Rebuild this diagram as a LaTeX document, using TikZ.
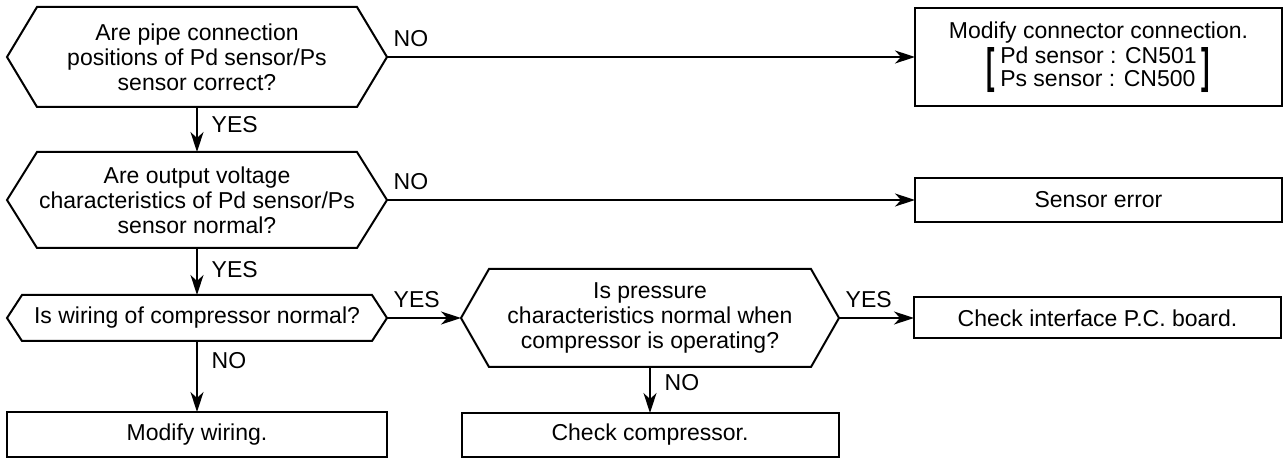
\documentclass[tikz,border=0pt]{standalone}
\usepackage{fontspec}
\setmainfont{Liberation Sans}
\usepackage{tikz}
\usetikzlibrary{arrows.meta, positioning}
\newcommand{\hexframe}[2]{%
  \draw[frm] (#1.west) -- ([xshift=#2]#1.north west) -- ([xshift=-#2]#1.north east)
    -- (#1.east) -- ([xshift=-#2]#1.south east) -- ([xshift=#2]#1.south west) -- cycle;}
\newcommand{\bigbrk}[1]{$\vcenter{\hbox{\scalebox{1.1}[2.1]{\bfseries #1}}}$}

\begin{document}
\begin{tikzpicture}[
  font=\fontsize{11.5}{12.4}\selectfont,
  frm/.style={line width=1pt, line join=miter},
  qhex/.style={minimum width=190pt, minimum height=50pt, align=center, inner sep=0pt, outer sep=0pt},
  res/.style={draw, frm, minimum width=183.5pt, minimum height=22pt, align=center, inner sep=0pt, outer sep=0pt},
  arr/.style={-{Stealth[length=10pt, width=6.5pt, inset=3pt]}, line width=0.7pt},
  hlbl/.style={anchor=south west, inner sep=0pt, xshift=3pt, yshift=5pt},
  vlbl/.style={right=7pt, inner sep=0pt}
]
\useasboundingbox (0,0) rectangle (642pt,-229.5pt);

% questions on the left
\node[qhex] (q1) at (98.5pt,-28.5pt) {Are pipe connection\\ positions of Pd sensor/Ps\\ sensor correct?};
\hexframe{q1}{15pt}
\node[qhex, minimum height=48pt, below=22.5pt of q1] (q2) {Are output voltage\\ characteristics of Pd sensor/Ps\\ sensor normal?};
\hexframe{q2}{15pt}
\node[qhex, minimum height=23pt, below=23.5pt of q2] (q3) {Is wiring of compressor normal?};
\hexframe{q3}{7.5pt}
\node[qhex, minimum width=189pt, minimum height=49pt, right=37pt of q3] (q4) {Is pressure\\ characteristics normal when\\ compressor is operating?};
\hexframe{q4}{14pt}

% results
\node[res, minimum height=49pt, right=264pt of q1] (fixconn) {Modify connector connection.\\[1pt]
  \def\arraystretch{0.84}\bigbrk{[}\hspace{2.5pt}\begin{tabular}{@{}l@{}}Pd sensor : CN501\\ Ps sensor : CN500\end{tabular}\hspace{2.5pt}\bigbrk{]}};
\node[res, right=264pt of q2] (senserr) {Sensor error};
\node[res, minimum height=20.5pt, right=37.5pt of q4] (chkpcb) {Check interface P.C. board.};
\node[res, minimum width=190pt, minimum height=22.5pt, below=35.5pt of q3] (fixwire) {Modify wiring.};
\node[res, minimum width=188.5pt, below=23pt of q4] (chkcomp) {Check compressor.};

\draw[arr] (q1.east) -- (fixconn.west) node[pos=0, hlbl] {NO};
\draw[arr] (q1.south) -- (q2.north) node[pos=0.4, vlbl] {YES};
\draw[arr] (q2.east) -- (senserr.west) node[pos=0, hlbl] {NO};
\draw[arr] (q2.south) -- (q3.north) node[pos=0.45, vlbl] {YES};
\draw[arr] (q3.east) -- (q4.west) node[pos=0, hlbl] {YES};
\draw[arr] (q3.south) -- (fixwire.north) node[pos=0.27, vlbl] {NO};
\draw[arr] (q4.east) -- (chkpcb.west) node[pos=0, hlbl] {YES};
\draw[arr] (q4.south) -- (chkcomp.north) node[pos=0.33, vlbl] {NO};
\end{tikzpicture}
\end{document}
